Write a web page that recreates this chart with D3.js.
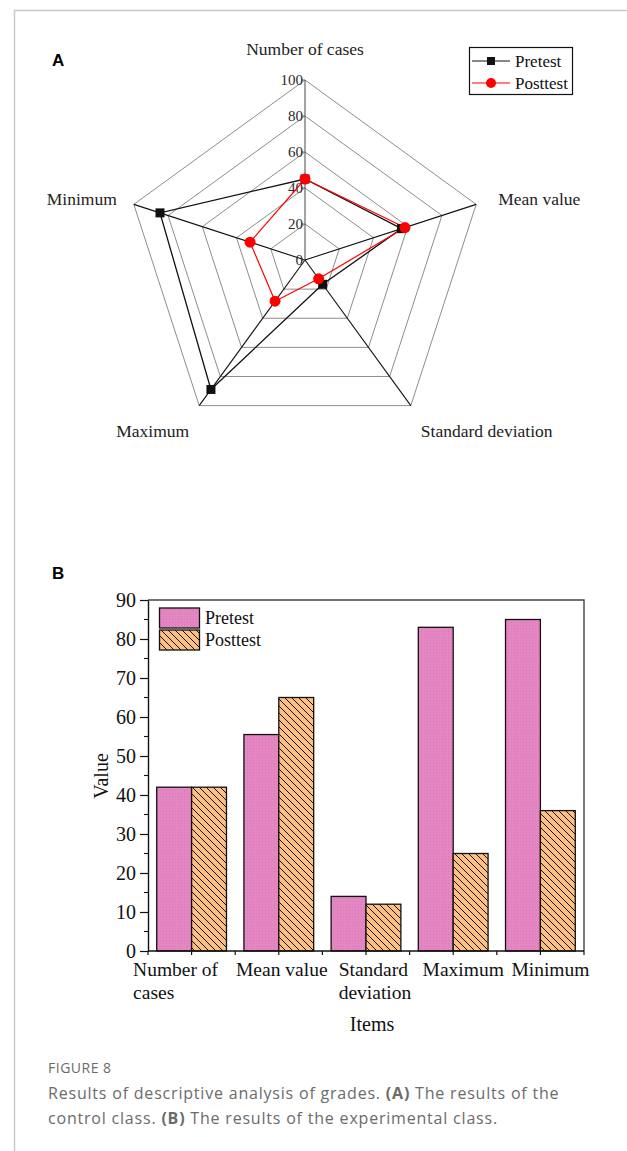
<!DOCTYPE html>
<html>
<head>
<meta charset="utf-8">
<script src="https://cdn.jsdelivr.net/npm/d3@7"></script>
<style>
  html, body { margin: 0; padding: 0; background: #fff; }
  svg { display: block; }
</style>
</head>
<body>
<svg id="fig" width="627" height="1151"></svg>
<script>
// ---------- DATA ----------
const radarAxes = ["Number of cases", "Mean value", "Standard deviation", "Maximum", "Minimum"];
const radarPretest = [45, 56.4, 16.7, 88.9, 84.7];
const radarPosttest = [45, 58.4, 12.9, 28.3, 32.1];
const radarTicks = [0, 20, 40, 60, 80, 100];

const barCategories = ["Number of cases", "Mean value", "Standard deviation", "Maximum", "Minimum"];
const barCategoryLines = [["Number of", "cases"], ["Mean value"], ["Standard", "deviation"], ["Maximum"], ["Minimum"]];
const barPretest = [42, 55.5, 14, 83, 85];
const barPosttest = [42, 65, 12, 25, 36];
const barTicks = [0, 10, 20, 30, 40, 50, 60, 70, 80, 90];
const seriesNames = ["Pretest", "Posttest"];

// ---------- SETUP ----------
const svg = d3.select("#fig");
const serif = "'Liberation Serif', 'Times New Roman', serif";
const sans = "'Open Sans', 'Noto Sans', sans-serif";

// figure border
svg.append("path").attr("d", "M14.5,1151 L14.5,10.5 L627,10.5")
  .attr("fill", "none").attr("stroke", "#c9c9c9").attr("stroke-width", 1.5);

// panel letters
svg.append("text").attr("x", 52).attr("y", 66).text("A")
  .attr("font-family", "'Liberation Sans', Arial, sans-serif").attr("font-weight", "bold").attr("font-size", 17);
svg.append("text").attr("x", 52).attr("y", 579).text("B")
  .attr("font-family", "'Liberation Sans', Arial, sans-serif").attr("font-weight", "bold").attr("font-size", 17);

// defs: patterns
const defs = svg.append("defs");
const pink = defs.append("pattern").attr("id", "pinkTex").attr("patternUnits", "userSpaceOnUse")
  .attr("width", 3).attr("height", 3);
pink.append("rect").attr("width", 3).attr("height", 3).attr("fill", "#E386C2");
pink.append("rect").attr("x", 1).attr("y", 1).attr("width", 1).attr("height", 1).attr("fill", "#D97AB8");
const hatch = defs.append("pattern").attr("id", "hatch").attr("patternUnits", "userSpaceOnUse")
  .attr("width", 7).attr("height", 7);
hatch.append("rect").attr("width", 7).attr("height", 7).attr("fill", "#FDBF82");
hatch.append("path").attr("d", "M-1,-1 L8,8")
  .attr("stroke", "#111").attr("stroke-width", 1);

// ---------- RADAR (A) ----------
const cx = 305, cy = 260;
const rScale = d3.scaleLinear().domain([0, 100]).range([0, 180]);
const ang = i => (-90 + i * 72) * Math.PI / 180;
const pt = (i, v) => [cx + rScale(v) * Math.cos(ang(i)), cy + rScale(v) * Math.sin(ang(i))];
const radar = svg.append("g");
const closedLine = d3.line().curve(d3.curveLinearClosed);

// rings
radarTicks.filter(t => t > 0).forEach(t => {
  radar.append("path").attr("d", closedLine(radarAxes.map((_, i) => pt(i, t))))
    .attr("fill", "none").attr("stroke", "#808080").attr("stroke-width", 0.9);
});
// spokes
radarAxes.forEach((_, i) => {
  const [x2, y2] = pt(i, 100);
  radar.append("line").attr("x1", cx).attr("y1", cy).attr("x2", x2).attr("y2", y2)
    .attr("stroke", i === 0 ? "#666" : "#111").attr("stroke-width", i === 0 ? 1.2 : 1.1);
});
// tick labels on top axis
radarTicks.forEach(t => {
  const y = cy - rScale(t);
  radar.append("line").attr("x1", cx - 4).attr("x2", cx).attr("y1", y).attr("y2", y)
    .attr("stroke", "#666").attr("stroke-width", 1);
  radar.append("text").attr("x", cx - 2).attr("y", y).attr("dy", "0.35em")
    .attr("text-anchor", "end").attr("font-family", serif).attr("font-size", 15)
    .attr("fill", "#2a2a2a").text(t);
});
// axis labels
radarAxes.forEach((name, i) => {
  const [vx, vy] = pt(i, 100);
  let x, y, anchor;
  if (i === 0) { x = vx; y = vy - 25; anchor = "middle"; }
  else if (i === 1) { x = vx + 22; y = vy + 1; anchor = "start"; }
  else if (i === 2) { x = vx + 10; y = vy + 31; anchor = "start"; }
  else if (i === 3) { x = vx - 10; y = vy + 31; anchor = "end"; }
  else { x = vx - 17; y = vy + 1; anchor = "end"; }
  radar.append("text").attr("x", x).attr("y", y).attr("text-anchor", anchor)
    .attr("font-family", serif).attr("font-size", 17.5).attr("fill", "#222").text(name);
});
// series
const preCol = "#111", postCol = "#ff0000";
radar.append("path").attr("d", closedLine(radarPretest.map((v, i) => pt(i, v))))
  .attr("fill", "none").attr("stroke", preCol).attr("stroke-width", 1.3);
radar.append("path").attr("d", closedLine(radarPosttest.map((v, i) => pt(i, v))))
  .attr("fill", "none").attr("stroke", postCol).attr("stroke-width", 1.2);
radarPretest.forEach((v, i) => {
  const [x, y] = pt(i, v);
  radar.append("rect").attr("x", x - 4.5).attr("y", y - 4.5).attr("width", 9).attr("height", 9).attr("fill", preCol);
});
radarPosttest.forEach((v, i) => {
  const [x, y] = pt(i, v);
  radar.append("circle").attr("cx", x).attr("cy", y).attr("r", 5.5).attr("fill", postCol);
});
// legend A
const legA = svg.append("g");
legA.append("rect").attr("x", 469.5).attr("y", 47.5).attr("width", 103).attr("height", 47)
  .attr("fill", "#fff").attr("stroke", "#111").attr("stroke-width", 1.2);
[[preCol, 61, "rect"], [postCol, 83, "circle"]].forEach(([c, y, m], k) => {
  legA.append("line").attr("x1", 472).attr("x2", 510).attr("y1", y).attr("y2", y).attr("stroke", c).attr("stroke-width", 1.2);
  if (m === "rect") legA.append("rect").attr("x", 487).attr("y", y - 4).attr("width", 8).attr("height", 8).attr("fill", c);
  else legA.append("circle").attr("cx", 491).attr("cy", y).attr("r", 5).attr("fill", c);
  legA.append("text").attr("x", 515).attr("y", y).attr("dy", "0.35em").attr("font-family", serif)
    .attr("font-size", 17).attr("fill", "#111").text(seriesNames[k]);
});

// ---------- BAR (B) ----------
const x0 = 148, x1 = 584, yTop = 600, yBot = 951;
const xScale = d3.scaleBand().domain(barCategories).range([x0, x1]).padding(0);
const yScale = d3.scaleLinear().domain([0, 90]).range([yBot, yTop]);
const bw = xScale.bandwidth() * 0.4;
const bars = svg.append("g");

barCategories.forEach((c, i) => {
  const mid = xScale(c) + xScale.bandwidth() / 2;
  bars.append("rect").attr("x", mid - bw).attr("y", yScale(barPretest[i]))
    .attr("width", bw).attr("height", yScale(0) - yScale(barPretest[i]))
    .attr("fill", "url(#pinkTex)").attr("stroke", "#111").attr("stroke-width", 1.3);
  bars.append("rect").attr("x", mid).attr("y", yScale(barPosttest[i]))
    .attr("width", bw).attr("height", yScale(0) - yScale(barPosttest[i]))
    .attr("fill", "url(#hatch)").attr("stroke", "#111").attr("stroke-width", 1.3);
});

// frame top/right
bars.append("path").attr("d", `M${x0},${yTop} L${x1},${yTop} L${x1},${yBot}`)
  .attr("fill", "none").attr("stroke", "#444").attr("stroke-width", 1.4);

// y axis
const yAxis = d3.axisLeft(yScale).tickValues(barTicks).tickSize(8).tickPadding(4).tickSizeOuter(0);
const gy = bars.append("g").attr("transform", `translate(${x0},0)`).call(yAxis);
gy.select(".domain").attr("stroke", "#111").attr("stroke-width", 1.4);
gy.selectAll(".tick line").attr("stroke", "#111").attr("stroke-width", 1.2);
gy.selectAll(".tick text").attr("font-family", serif).attr("font-size", 20).attr("fill", "#111");
// minor y ticks
d3.range(5, 90, 10).forEach(v => {
  bars.append("line").attr("x1", x0 - 4).attr("x2", x0).attr("y1", yScale(v)).attr("y2", yScale(v))
    .attr("stroke", "#111").attr("stroke-width", 1.1);
});

// x axis
bars.append("line").attr("x1", x0 - 0).attr("x2", x1).attr("y1", yBot).attr("y2", yBot)
  .attr("stroke", "#111").attr("stroke-width", 1.4);
barCategories.forEach(c => {
  const a = xScale(c), m = a + xScale.bandwidth() / 2;
  [a, m].forEach(xx => bars.append("line").attr("x1", xx).attr("x2", xx).attr("y1", yBot).attr("y2", yBot + 4)
    .attr("stroke", "#111").attr("stroke-width", 1.2));
});
bars.append("line").attr("x1", x1).attr("x2", x1).attr("y1", yBot).attr("y2", yBot + 4)
  .attr("stroke", "#111").attr("stroke-width", 1.2);

// x labels (lines left aligned within a block)
const labelShift = [-16, 3, 9, 10, 10];
barCategoryLines.forEach((lines, i) => {
  const mid = xScale(barCategories[i]) + xScale.bandwidth() / 2 + labelShift[i];
  const t = bars.append("text").attr("font-family", serif).attr("font-size", 19.5).attr("fill", "#111");
  const spans = lines.map((l, k) => t.append("tspan").attr("y", 976 + k * 23).text(l));
  const w = d3.max(spans, s => s.node().getComputedTextLength());
  spans.forEach(s => s.attr("x", mid - w / 2));
});
bars.append("text").attr("x", (x0 + x1) / 2 + 6).attr("y", 1031).attr("text-anchor", "middle")
  .attr("font-family", serif).attr("font-size", 20).attr("fill", "#111").text("Items");
bars.append("text").attr("transform", `translate(108,776) rotate(-90)`).attr("text-anchor", "middle")
  .attr("font-family", serif).attr("font-size", 20).attr("fill", "#111").text("Value");

// legend B
[["url(#pinkTex)", 608], ["url(#hatch)", 630]].forEach(([f, y], k) => {
  bars.append("rect").attr("x", 159.5).attr("y", y).attr("width", 40).attr("height", 20)
    .attr("fill", f).attr("stroke", "#111").attr("stroke-width", 1.3);
  bars.append("text").attr("x", 205).attr("y", y + 10).attr("dy", "0.35em").attr("font-family", serif)
    .attr("font-size", 18).attr("fill", "#111").text(seriesNames[k]);
});

// ---------- CAPTION ----------
const cap = svg.append("g").attr("font-family", sans).attr("fill", "#6b6b6b");
cap.append("text").attr("x", 48).attr("y", 1073).attr("font-size", 14).attr("letter-spacing", 0.5).text("FIGURE 8");
const l1 = cap.append("text").attr("x", 48).attr("y", 1099).attr("font-size", 16).attr("letter-spacing", 0.8);
l1.append("tspan").text("Results of descriptive analysis of grades. ");
l1.append("tspan").attr("font-weight", "bold").text("(A)");
l1.append("tspan").text(" The results of the");
const l2 = cap.append("text").attr("x", 48).attr("y", 1124).attr("font-size", 16).attr("letter-spacing", 0.8);
l2.append("tspan").text("control class. ");
l2.append("tspan").attr("font-weight", "bold").text("(B)");
l2.append("tspan").text(" The results of the experimental class.");
</script>
</body>
</html>
